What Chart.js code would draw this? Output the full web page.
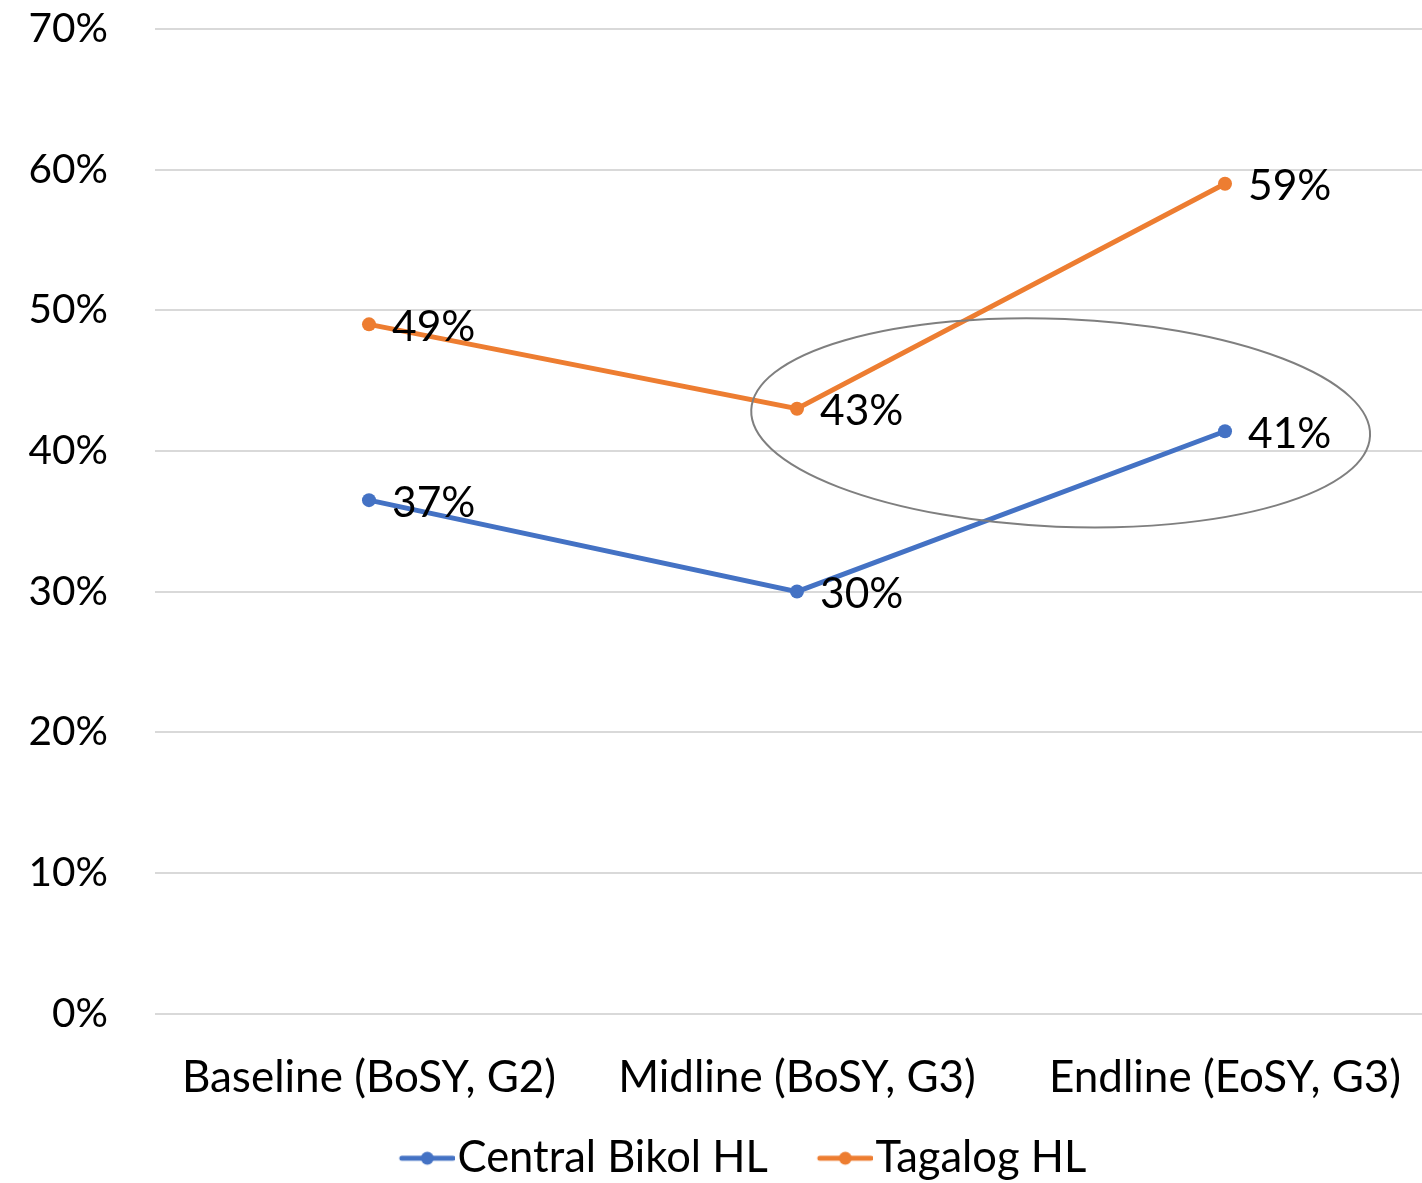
<!DOCTYPE html>
<html>
<head>
<meta charset="utf-8">
<script src="https://cdn.jsdelivr.net/npm/chart.js@4"></script>
<style>
  html, body { margin: 0; padding: 0; background: #fff; overflow: hidden; }
  #wrap { width: 1446px; height: 1183px; }
</style>
</head>
<body>
<div id="wrap"><canvas id="c" width="1446" height="1183"></canvas></div>
<script>
// Categories and series (percent of learners)
const categories = ['Baseline (BoSY, G2)', 'Midline (BoSY, G3)', 'Endline (EoSY, G3)'];
const centralBikol = [36.5, 30.0, 41.4];
const tagalog = [49.0, 43.0, 59.0];
const seriesNames = ['Central Bikol HL', 'Tagalog HL'];
const yTickValues = [0, 10, 20, 30, 40, 50, 60, 70];

const BLUE = '#4472C4';
const ORANGE = '#ED7D31';
const FONT = 'Lato, "Open Sans", sans-serif';

// Legend icon: short line with a dot, drawn inside a wider transparent box
// so the gap between legend entries stays wide while the icon hugs its text.
function legendIcon(color) {
  const c = document.createElement('canvas');
  c.width = 114; c.height = 16;
  const g = c.getContext('2d');
  g.strokeStyle = color; g.lineWidth = 5; g.lineCap = 'round';
  g.beginPath(); g.moveTo(61, 8); g.lineTo(112, 8); g.stroke();
  g.fillStyle = color;
  g.beginPath(); g.arc(86.5, 8, 6.5, 0, Math.PI * 2); g.fill();
  return c;
}

// Value labels to the right of each point
const valueLabels = {
  id: 'valueLabels',
  afterDatasetsDraw(chart) {
    const ctx = chart.ctx;
    ctx.save();
    ctx.font = '42.5px ' + FONT;
    ctx.fillStyle = '#000';
    ctx.textAlign = 'left';
    ctx.textBaseline = 'middle';
    chart.data.datasets.forEach((ds, i) => {
      chart.getDatasetMeta(i).data.forEach((pt, j) => {
        ctx.fillText(Math.round(ds.data[j]) + '%', pt.x + 23, pt.y + 3);
      });
    });
    ctx.restore();
  }
};

// Grey ellipse circling the midline/endline gap, placed in scale units
const highlightEllipse = {
  id: 'highlightEllipse',
  afterDatasetsDraw(chart, args, opts) {
    const xs = chart.scales.x, ys = chart.scales.y;
    const cx = xs.getPixelForValue(opts.cx);
    const cy = ys.getPixelForValue(opts.cy);
    const rx = xs.getPixelForValue(opts.cx + opts.rx) - cx;
    const ry = cy - ys.getPixelForValue(opts.cy + opts.ry);
    const ctx = chart.ctx;
    ctx.save();
    ctx.strokeStyle = '#7f7f7f';
    ctx.lineWidth = 2;
    ctx.beginPath();
    ctx.ellipse(cx, cy, rx, ry, opts.angle * Math.PI / 180, 0, Math.PI * 2);
    ctx.stroke();
    ctx.restore();
  }
};

const icons = [legendIcon(BLUE), legendIcon(ORANGE)];

function draw() {
  new Chart(document.getElementById('c'), {
    type: 'line',
    data: {
      labels: categories,
      datasets: [
        { label: seriesNames[0], data: centralBikol, borderColor: BLUE, backgroundColor: BLUE,
          borderWidth: 5, pointRadius: 7, pointHoverRadius: 7, pointBorderWidth: 0, tension: 0 },
        { label: seriesNames[1], data: tagalog, borderColor: ORANGE, backgroundColor: ORANGE,
          borderWidth: 5, pointRadius: 7, pointHoverRadius: 7, pointBorderWidth: 0, tension: 0 }
      ]
    },
    options: {
      responsive: false,
      animation: false,
      layout: { padding: { top: 29, right: 0, bottom: -7, left: 0 } },
      scales: {
        x: {
          offset: true,
          grid: { display: false, drawTicks: false },
          border: { display: false },
          ticks: { color: '#000', font: { family: FONT, size: 44 }, padding: 38, maxRotation: 0 },
          afterFit(scale) {
            scale.height = 113;
            scale.paddingLeft = 0; scale.paddingRight = 0;
          }
        },
        y: {
          min: 0, max: 70,
          afterBuildTicks(scale) { scale.ticks = yTickValues.map(v => ({ value: v })); },
          grid: { color: '#d9d9d9', lineWidth: 2, drawTicks: false },
          border: { display: false },
          ticks: { color: '#000', font: { family: FONT, size: 40.5 }, padding: 47,
                   callback: v => v + '%' },
          afterFit(scale) {
            scale.width = 155;
            scale.paddingTop = 0; scale.paddingBottom = 0;
          }
        }
      },
      plugins: {
        legend: {
          position: 'bottom',
          labels: {
            usePointStyle: true,
            pointStyleWidth: 76,
            padding: 10,
            color: '#000',
            font: { family: FONT, size: 43.5 },
            generateLabels(chart) {
              return chart.data.datasets.map((ds, i) => ({
                text: ds.label, pointStyle: icons[i], fillStyle: ds.borderColor,
                strokeStyle: ds.borderColor, lineWidth: 0, hidden: false, datasetIndex: i, fontColor: '#000'
              }));
            }
          }
        },
        tooltip: { enabled: false },
        highlightEllipse: { cx: 1.616, cy: 42.0, rx: 0.7235, ry: 7.39, angle: 2.4 }
      }
    },
    plugins: [highlightEllipse, valueLabels]
  });
}

if (document.fonts && document.fonts.load) {
  document.fonts.load('44px Lato').then(draw, draw);
} else {
  draw();
}
</script>
</body>
</html>
